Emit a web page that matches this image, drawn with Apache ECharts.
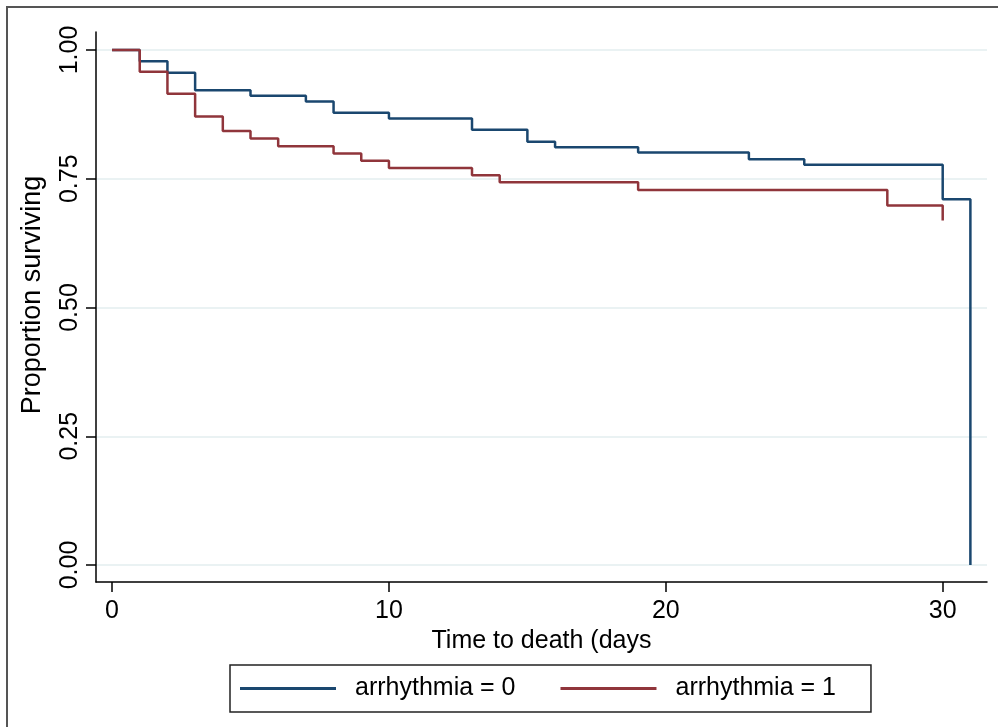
<!DOCTYPE html>
<html>
<head>
<meta charset="utf-8">
<title>Kaplan-Meier</title>
<script src="https://cdn.jsdelivr.net/npm/echarts@6/dist/echarts.min.js"></script>
<style>
  html, body { margin: 0; padding: 0; background: #fff; }
  #main { width: 998px; height: 727px; }
</style>
</head>
<body>
<div id="main"></div>
<script>
// survival estimates
var timeArr0 = [0, 1, 2, 3, 5, 7, 8, 10, 13, 15, 16, 19, 23, 25, 30, 31];
var survArr0 = [1, 0.978, 0.956, 0.922, 0.911, 0.900, 0.878, 0.867, 0.845, 0.822, 0.811, 0.801, 0.788, 0.777, 0.710, 0];
var timeArr1 = [0, 1, 2, 3, 4, 5, 6, 8, 9, 10, 13, 14, 19, 28, 30];
var survArr1 = [1, 0.958, 0.915, 0.871, 0.843, 0.828, 0.813, 0.799, 0.785, 0.771, 0.757, 0.743, 0.728, 0.698, 0.669];
var xTicks = [0, 10, 20, 30];
var yTicks = [0, 0.25, 0.5, 0.75, 1];
var seriesNames = ['arrhythmia = 0', 'arrhythmia = 1'];

function pairs(t, s) {
  var out = [];
  for (var i = 0; i < t.length; i++) out.push([t[i], s[i]]);
  return out;
}

var font = 'Liberation Sans, Arial, Helvetica, sans-serif';

var option = {
  animation: false,
  backgroundColor: '#fff',
  grid: { left: 96, right: 11, top: 32, bottom: 145 },
  graphic: [{
    type: 'rect', silent: true,
    shape: { x: 7, y: 7, width: 1200, height: 1000 },
    style: { fill: 'none', stroke: '#555', lineWidth: 2 }
  }],
  legend: {
    left: 230, top: 665,
    data: seriesNames,
    icon: 'rect',
    itemWidth: 96, itemHeight: 3, itemGap: 45,
    padding: [11, 35, 11, 10],
    borderColor: '#222', borderWidth: 1.5,
    textStyle: { fontFamily: font, fontSize: 25, color: '#000', padding: [0, 0, 0, 14] }
  },
  xAxis: {
    type: 'value',
    min: -0.58, max: 31.6,
    name: 'Time to death (days',
    nameLocation: 'middle', nameGap: 40,
    nameTextStyle: { fontFamily: font, fontSize: 25, color: '#000' },
    axisLine: { show: true, onZero: false, lineStyle: { color: '#000', width: 1.5 } },
    axisTick: { show: true, length: 10, customValues: xTicks, lineStyle: { color: '#000', width: 1.5 } },
    axisLabel: { customValues: xTicks, margin: 17, fontFamily: font, fontSize: 25, color: '#000' },
    splitLine: { show: false }
  },
  yAxis: {
    type: 'value',
    min: -0.033, max: 1.035,
    name: 'Proportion surviving',
    nameLocation: 'middle', nameGap: 50,
    nameTextStyle: { fontFamily: font, fontSize: 27, color: '#000', padding: [0, 0, 0, 24] },
    axisLine: { show: true, onZero: false, lineStyle: { color: '#000', width: 1.5 } },
    axisTick: { show: true, length: 10, customValues: yTicks, lineStyle: { color: '#000', width: 1.5 } },
    axisLabel: {
      customValues: yTicks, rotate: 90, margin: 13,
      fontFamily: font, fontSize: 25, color: '#000',
      formatter: function (v) { return v.toFixed(2); }
    },
    splitLine: { show: true, lineStyle: { color: '#eaf2f3', width: 2 } }
  },
  series: [
    {
      name: seriesNames[0],
      type: 'line', step: 'end', showSymbol: false,
      data: pairs(timeArr0, survArr0),
      color: '#1a476f',
      lineStyle: { color: '#1a476f', width: 2.5 }
    },
    {
      name: seriesNames[1],
      type: 'line', step: 'end', showSymbol: false,
      data: pairs(timeArr1, survArr1),
      color: '#90353b',
      lineStyle: { color: '#90353b', width: 2.5 }
    }
  ]
};

var chart = echarts.init(document.getElementById('main'));
chart.setOption(option);
</script>
</body>
</html>
